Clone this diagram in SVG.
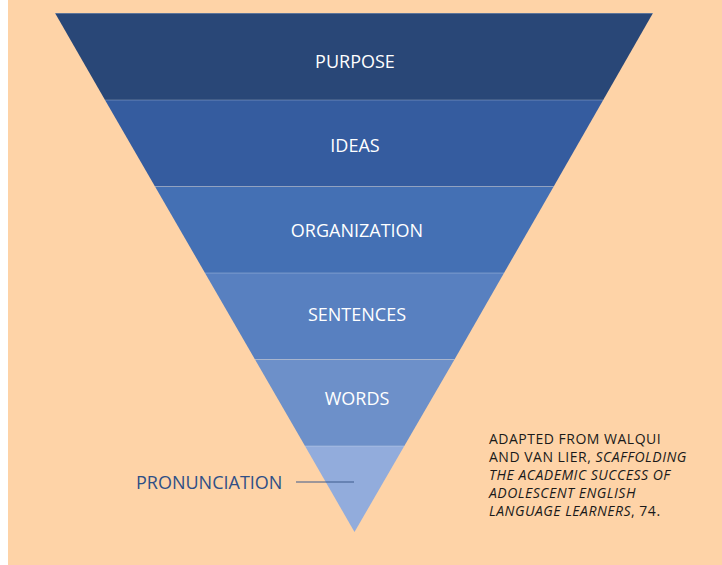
<svg xmlns="http://www.w3.org/2000/svg" width="722" height="565" viewBox="0 0 722 565">
<style>
.lbl{font-family:"Open Sans","Noto Sans",sans-serif;font-size:18px;fill:#ffffff;text-anchor:middle}
.cite{font-family:"Open Sans","Noto Sans",sans-serif;font-size:14px;letter-spacing:0.5px;fill:#1a1a1a}
.sep{stroke:#ffffff;stroke-opacity:0.25;stroke-width:1}
</style>
<rect x="0" y="0" width="722" height="565" fill="#ffffff"/>
<rect x="8" y="0" width="714" height="565" fill="#fed3a7"/>
<g id="band-purpose">
<polygon points="55,13 653,13 603.2,100 105,100" fill="#294777"/>
<text class="lbl" x="355" y="68">PURPOSE</text>
</g>
<g id="band-ideas">
<polygon points="105,100 603.2,100 553.7,186.5 155,186.5" fill="#355c9f"/>
<text class="lbl" x="355" y="152">IDEAS</text>
</g>
<g id="band-organization">
<polygon points="155,186.5 553.7,186.5 504,273 205,273" fill="#4470b4"/>
<text class="lbl" x="357" y="237">ORGANIZATION</text>
</g>
<g id="band-sentences">
<polygon points="205,273 504,273 454.5,359.5 255,359.5" fill="#5880c0"/>
<text class="lbl" x="357" y="321">SENTENCES</text>
</g>
<g id="band-words">
<polygon points="255,359.5 454.5,359.5 404.3,446 305,446" fill="#6d90c9"/>
<text class="lbl" x="357" y="405">WORDS</text>
</g>
<g id="band-pronunciation">
<polygon points="305,446 404.3,446 354.5,532" fill="#92acdc"/>
</g>
<g id="separators">
<line class="sep" x1="55" y1="13.5" x2="653" y2="13.5" stroke="#a0a0a0"/>
<line class="sep" x1="105" y1="100" x2="603" y2="100"/>
<line class="sep" x1="155" y1="186.5" x2="553.7" y2="186.5"/>
<line class="sep" x1="205" y1="273" x2="504" y2="273"/>
<line class="sep" x1="255" y1="359.5" x2="454.5" y2="359.5"/>
<line class="sep" x1="305" y1="446" x2="404.3" y2="446"/>
</g>
<g id="connectors">
<line x1="296" y1="482" x2="354" y2="482" stroke="#3d5a8c" stroke-width="1.2"/>
</g>
<g id="label-pronunciation">
<text x="136" y="489" font-family="Open Sans, Noto Sans, sans-serif" font-size="18" fill="#2f4f86">PRONUNCIATION</text>
</g>
<g id="citation">
<text class="cite" x="489" y="444">ADAPTED FROM WALQUI</text>
<text class="cite" x="489" y="462">AND VAN LIER, <tspan font-style="italic">SCAFFOLDING</tspan></text>
<text class="cite" x="489" y="480" font-style="italic">THE ACADEMIC SUCCESS OF</text>
<text class="cite" x="489" y="498" font-style="italic">ADOLESCENT ENGLISH</text>
<text class="cite" x="489" y="516"><tspan font-style="italic">LANGUAGE LEARNERS</tspan>, 74.</text>
</g>
</svg>
